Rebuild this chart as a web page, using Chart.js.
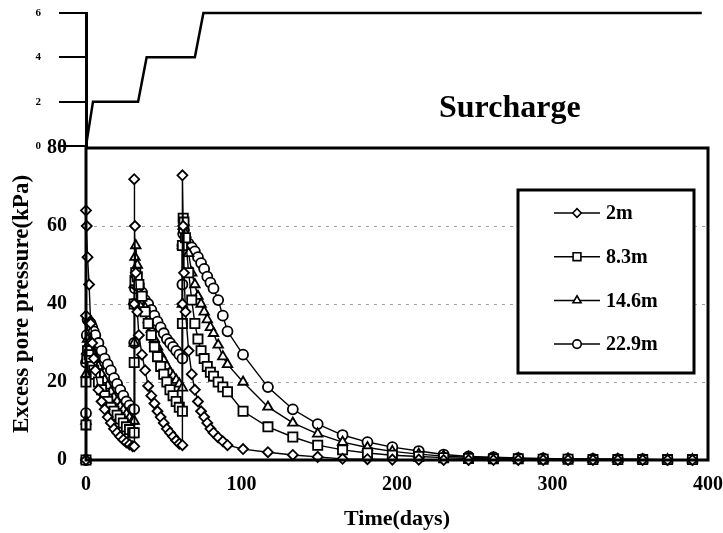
<!DOCTYPE html>
<html>
<head>
<meta charset="utf-8">
<script src="https://cdn.jsdelivr.net/npm/chart.js@4.4.1/dist/chart.umd.min.js"></script>
<style>
body { margin: 0; background: #fff; }
#wrap { position: relative; width: 723px; height: 533px; }
canvas { position: absolute; left: 0; top: 0; }
</style>
</head>
<body>
<div id="wrap">
<canvas id="mainChart" width="723" height="533"></canvas>
<canvas id="loadChart" width="723" height="160"></canvas>
</div>
<script>
// time axis shared by the four depths (three load steps at day 0, 31 and 62)
const days = [
    0, 0, 0, 0.5, 1, 2, 3, 4, 5, 6, 8, 10, 12, 14, 16, 18, 20, 22, 24, 26, 28, 30,
    31, 31, 31, 31.5, 32, 33, 34, 36, 38, 40, 42, 44, 46, 48, 50, 52, 54, 56, 58, 60,
    62, 62, 62, 62.5, 63, 64, 66, 68, 70, 72, 74, 76, 78, 80, 82, 85, 88, 91,
    101, 117, 133, 149, 165, 181, 197, 214, 230, 246, 262, 278, 294, 310, 326, 342, 358, 374, 390
];
const depth2m = [
    0, 37, 64, 60, 52, 45, 35, 30, 26, 23, 18, 15, 13, 11, 9.5, 8, 7, 6, 5.2, 4.5, 4, 3.5,
    3.5, 40, 72, 60, 48, 38, 32, 27, 23, 19, 16.5, 14.5, 12.5, 11, 9.5, 8, 7, 6, 5, 4.2,
    3.8, 40, 73, 60, 48, 38, 28, 22, 18, 15, 12.5, 11, 9.5, 8, 7, 5.8, 4.8, 3.8,
    2.8, 2, 1.3, 0.8, 0.3, 0.2, 0.1, 0.1, 0, 0, 0, 0, 0, 0, 0, 0, 0, 0, 0
];
const depth8m = [
    0, 9, 20, 26, 28, 27, 25.5, 24, 23, 22, 20, 18, 16.5, 15, 13.5, 12.5, 11.5, 10.5, 9.5, 8.5, 7.8, 7,
    7, 25, 40, 46, 48, 47, 45, 42, 38, 35, 32, 29, 26.5, 24, 22, 20, 18, 16.5, 15, 13.5,
    12.5, 35, 55, 62, 61, 57, 48, 41, 35, 31, 28, 26, 24, 22.5, 21.5, 20, 18.7, 17.5,
    12.5, 8.5, 5.9, 3.8, 2.6, 1.8, 1.2, 0.9, 0.6, 0.4, 0.3, 0.3, 0.2, 0.2, 0.1, 0.1, 0.1, 0.1, 0.1
];
const depth14m = [
    0, 10, 22, 28, 31, 30, 29, 28, 27, 26, 24, 22, 20.5, 19, 17.5, 16, 15, 13.8, 12.8, 11.8, 10.8, 10,
    10, 30, 45, 52, 55, 50, 46, 42, 39, 36, 33.5, 31, 29, 27, 25.5, 24, 22.5, 21.5, 20.5, 19.5,
    18.5, 40, 55, 60, 61, 58, 53, 48, 45, 42, 40, 38, 36, 34, 32.5, 29.5, 26.5, 24.5,
    20, 13.6, 9.5, 6.7, 4.6, 3.2, 2.2, 1.5, 1, 0.7, 0.5, 0.4, 0.3, 0.3, 0.2, 0.2, 0.1, 0.1, 0.1
];
const depth22m = [
    0, 12, 25, 32, 36, 35.5, 35, 34, 33, 32, 30, 28, 26, 24.5, 23, 21, 19.5, 18, 16.5, 15, 14, 13,
    13, 30, 40, 44, 45, 45, 44.5, 43, 41, 40, 38.5, 37, 35.5, 34, 32.5, 31, 30, 29, 28, 27,
    26, 45, 55, 58, 59, 57, 55.5, 54.5, 53.5, 52, 50.5, 49, 47, 45.5, 44, 41, 37, 33,
    27, 18.7, 13, 9.2, 6.4, 4.6, 3.3, 2.3, 1.4, 0.9, 0.7, 0.5, 0.4, 0.3, 0.3, 0.2, 0.2, 0.1, 0.1
];
const depthLabels = ['2m', '8.3m', '14.6m', '22.9m'];

// surcharge history (top panel)
const loadDays = [0, 4.5, 33.5, 39, 70, 75.5, 396];
const loadValues = [0, 2, 2, 4, 4, 6, 6];

const serif = '"Liberation Serif", "Times New Roman", serif';
Chart.defaults.font.family = serif;
Chart.defaults.font.weight = 'bold';
Chart.defaults.color = '#000';

function toPoints(xs, ys) {
    const pts = [];
    for (let i = 0; i < xs.length; i++) {
        pts.push({ x: xs[i], y: ys[i] });
    }
    return pts;
}

function series(label, values, style, radius) {
    return {
        label: label,
        data: toPoints(days, values),
        borderColor: '#000',
        borderWidth: 1.4,
        backgroundColor: '#fff',
        pointStyle: style,
        pointRadius: radius,
        pointBorderWidth: 1.8,
        pointBorderColor: '#000',
        pointBackgroundColor: '#fff',
        tension: 0,
        clip: false
    };
}

const plotBox = {
    id: 'plotBox',
    afterDatasetsDraw(chart) {
        const a = chart.chartArea;
        const ctx = chart.ctx;
        ctx.save();
        ctx.lineWidth = 3;
        ctx.strokeStyle = '#000';
        ctx.strokeRect(a.left, a.top, a.right - a.left, a.bottom - a.top);
        ctx.restore();
    }
};

const boxLegend = {
    id: 'boxLegend',
    afterDraw(chart) {
        const ctx = chart.ctx;
        ctx.save();
        ctx.fillStyle = '#fff';
        ctx.fillRect(518, 190, 176, 183);
        ctx.lineWidth = 3;
        ctx.strokeStyle = '#000';
        ctx.strokeRect(518, 190, 176, 183);
        chart.data.datasets.forEach(function (ds, i) {
            const y = 213 + i * 43.7;
            ctx.lineWidth = 1.5;
            ctx.beginPath();
            ctx.moveTo(554, y);
            ctx.lineTo(600, y);
            ctx.stroke();
            ctx.fillStyle = '#fff';
            ctx.lineWidth = 1.6;
            Chart.helpers.drawPoint(ctx, { pointStyle: ds.pointStyle, radius: ds.pointRadius * 0.85, borderWidth: 1.6, rotation: 0 }, 577, y);
            ctx.fillStyle = '#000';
            ctx.font = 'bold 20px ' + serif;
            ctx.textBaseline = 'middle';
            ctx.textAlign = 'left';
            ctx.fillText(ds.label, 606, y + 1);
        });
        ctx.restore();
    }
};

const surchargeLabel = {
    id: 'surchargeLabel',
    afterDraw(chart) {
        const ctx = chart.ctx;
        ctx.save();
        ctx.fillStyle = '#000';
        ctx.font = 'bold 32px ' + serif;
        ctx.textBaseline = 'alphabetic';
        ctx.fillText('Surcharge', 439, 117);
        ctx.restore();
    }
};

mainChart = new Chart(document.getElementById('mainChart').getContext('2d'), {
    type: 'line',
    data: {
        datasets: [
            series(depthLabels[0], depth2m, 'rectRot', 5),
            series(depthLabels[1], depth8m, 'rect', 6.5),
            series(depthLabels[2], depth14m, 'triangle', 5.5),
            series(depthLabels[3], depth22m, 'circle', 5)
        ]
    },
    options: {
        responsive: false,
        animation: false,
        layout: { padding: { top: 148, right: 15, bottom: 0, left: 0 } },
        plugins: { legend: { display: false }, tooltip: { enabled: false } },
        scales: {
            x: {
                type: 'linear', min: 0, max: 400,
                ticks: { stepSize: 100, font: { size: 20 }, padding: 13, maxRotation: 0 },
                grid: { display: false, drawTicks: false },
                border: { display: false },
                title: { display: true, text: 'Time(days)', font: { size: 22 }, padding: 0 },
                afterFit: function (s) { s.height = 73; s.paddingRight = 0; s.paddingLeft = 0; }
            },
            y: {
                min: 0, max: 80,
                ticks: { stepSize: 20, font: { size: 20 }, padding: 19 },
                grid: {
                    drawTicks: false,
                    lineWidth: 1,
                    color: function (c) {
                        return [20, 40, 60].indexOf(c.tick.value) > -1 ? '#a0a0a0' : 'rgba(0,0,0,0)';
                    }
                },
                border: { display: false, dash: [3, 5] },
                title: { display: true, text: 'Excess pore pressure(kPa)', font: { size: 23 }, padding: 8 },
                afterFit: function (s) { s.width = 86; s.paddingTop = 0; s.paddingBottom = 0; }
            }
        }
    },
    plugins: [plotBox, boxLegend]
});

loadChart = new Chart(document.getElementById('loadChart').getContext('2d'), {
    type: 'line',
    data: {
        datasets: [{
            label: 'Surcharge',
            data: toPoints(loadDays, loadValues),
            borderColor: '#000',
            borderWidth: 2.5,
            pointRadius: 0,
            tension: 0,
            clip: false
        }]
    },
    options: {
        responsive: false,
        animation: false,
        layout: { padding: { top: 13, right: 15, bottom: 14, left: 0 } },
        plugins: { legend: { display: false }, tooltip: { enabled: false } },
        scales: {
            x: { type: 'linear', min: 0, max: 400, display: false },
            y: {
                min: 0, max: 6,
                ticks: { stepSize: 2, font: { size: 11 }, padding: 18 },
                grid: { drawOnChartArea: false, tickLength: 27, lineWidth: 2, color: '#000' },
                border: { display: true, width: 3, color: '#000' },
                afterFit: function (s) { s.width = 86; s.paddingTop = 0; s.paddingBottom = 0; }
            }
        }
    },
    plugins: [surchargeLabel]
});
</script>
</body>
</html>
